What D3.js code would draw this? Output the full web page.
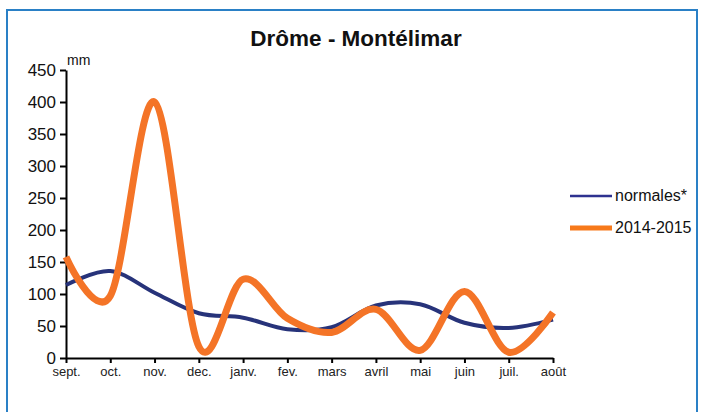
<!DOCTYPE html>
<html><head><meta charset="utf-8">
<script src="https://cdn.jsdelivr.net/npm/d3@7"></script>
<style>
html,body{margin:0;padding:0;background:#fff;}
text{font-family:"Liberation Sans",Arial,sans-serif;}
</style></head>
<body>
<svg id="chart" width="702" height="412"></svg>
<script>
const months = ["sept.","oct.","nov.","dec.","janv.","fev.","mars","avril","mai","juin","juil.","août"];
const normales = [114, 136, 102, 70, 63, 45, 48, 82, 84, 55, 47, 60];
const saison = [158, 97, 400, 18, 123, 62, 40, 76, 12, 104, 9, 71];
const yTicks = [0,50,100,150,200,250,300,350,400,450];
const seriesNames = ["normales*", "2014-2015"];

const svg = d3.select("#chart");
const orange = "#f47427", navy = "#27337a";

svg.append("rect").attr("x",7).attr("y",10).attr("width",690).attr("height",420)
  .attr("fill","none").attr("stroke","#2a80c6").attr("stroke-width",2);

svg.append("text").attr("x",356).attr("y",46).attr("text-anchor","middle")
  .attr("font-weight","bold").attr("font-size",22.5).attr("fill","#111").text("Drôme - Montélimar");

const x = d3.scalePoint().domain(months).range([66,553]);
const y = d3.scaleLinear().domain([0,450]).range([358,70]);

const gy = svg.append("g").attr("transform","translate(66,0)")
  .call(d3.axisLeft(y).tickValues(yTicks).tickSize(6).tickSizeOuter(0).tickPadding(4));
gy.selectAll("text").attr("font-size",17).attr("fill","#111").attr("font-family","Liberation Sans, Arial, sans-serif");
gy.selectAll("line,path").attr("stroke","#000").attr("stroke-width",2);

const gx = svg.append("g").attr("transform","translate(0,358)")
  .call(d3.axisBottom(x).tickSize(5).tickSizeOuter(0).tickPadding(4));
gx.selectAll("text").attr("font-size",13).attr("fill","#222").attr("font-family","Liberation Sans, Arial, sans-serif");
gx.selectAll("line,path").attr("stroke","#000").attr("stroke-width",2);

svg.append("text").attr("x",67).attr("y",65).attr("font-size",14).attr("fill","#111").text("mm");

const line = d3.line().x((d,i)=>x(months[i])).y(d=>y(d)).curve(d3.curveCardinal.tension(0));
svg.append("path").datum(normales).attr("d",line).attr("fill","none")
  .attr("stroke",navy).attr("stroke-width",4).attr("stroke-linejoin","round");
svg.append("path").datum(saison).attr("d",line).attr("fill","none")
  .attr("stroke",orange).attr("stroke-width",7).attr("stroke-linejoin","round");

const leg = [{c:"#2e3290",w:2.5,y:196,ty:201},{c:"#f7791a",w:5,y:228,ty:233}];
leg.forEach((l,i)=>{
  svg.append("line").attr("x1",570).attr("x2",612).attr("y1",l.y).attr("y2",l.y)
    .attr("stroke",l.c).attr("stroke-width",l.w);
  svg.append("text").attr("x",615).attr("y",l.ty).attr("font-size",16).attr("fill","#111").text(seriesNames[i]);
});
</script>
</body></html>
